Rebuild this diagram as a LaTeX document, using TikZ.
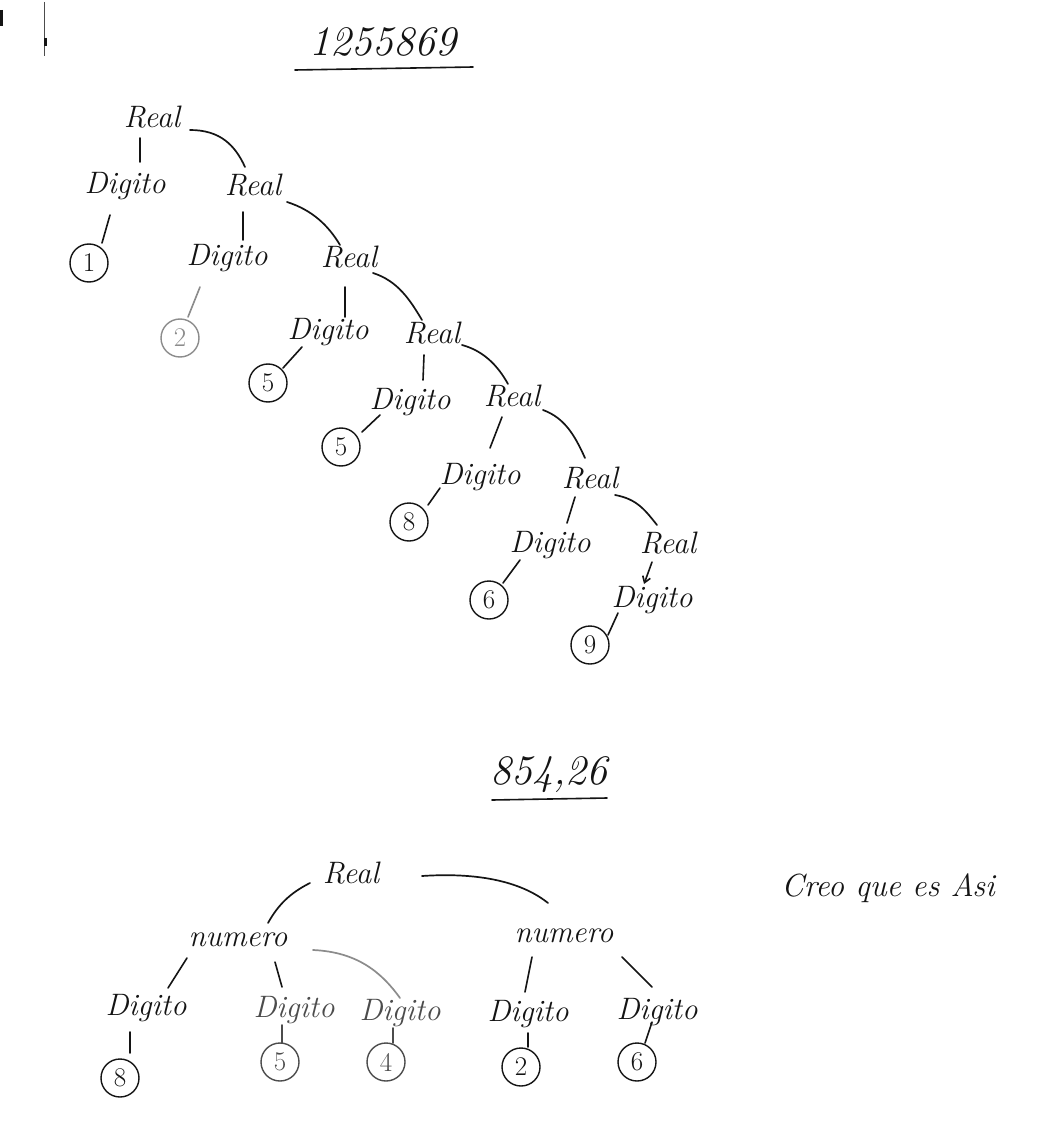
\documentclass[tikz,border=0pt]{standalone}
\usetikzlibrary{arrows.meta}
\definecolor{ink}{gray}{0.08}
\definecolor{faint}{gray}{0.55}
\definecolor{mid}{gray}{0.3}
\begin{document}
\begin{tikzpicture}[x=1pt,y=-1pt,
  lbl/.style={font=\fontsize{31}{34}\selectfont\itshape, inner sep=1pt, text=ink},
  ttl/.style={font=\fontsize{42}{46}\selectfont\itshape, inner sep=1pt, text=ink},
  dig/.style={circle, draw=ink, line width=1.4pt, minimum size=38pt, inner sep=0pt,
              font=\fontsize{27}{29}\selectfont, text=ink},
  edge/.style={draw=ink, line width=1.6pt, line cap=round},
  arc/.style={edge, line width=1.7pt}]
\useasboundingbox (0,0) rectangle (1041,1131);
\fill[white] (0,0) rectangle (1041,1131);

% scan marks at the top left
\draw[ink, line width=3pt] (1,10) -- (1,26);
\draw[mid, line width=0.8pt] (44,2) -- (44,56);
\draw[ink, line width=3pt] (45,38) -- (45,46);

% ---------- first tree: 1255869 ----------
\node[ttl] (t1) at (383,42) {1255869};
\draw[edge] ([shift={(-88,28)}]t1.center) -- ([shift={(90,25)}]t1.center);

\node[lbl] (r1) at (152,117) {Real};
\node[lbl] (d1) at (125,186) {Digito};
\node[lbl] (r2) at (253,185) {Real};
\node[dig] (c1) at (89,263) {1};
\node[lbl] (d2) at (227,258) {Digito};
\node[lbl] (r3) at (349,257) {Real};
\node[dig, draw=faint, text=faint] (c2) at (180,338) {2};
\node[lbl] (d3) at (328,332) {Digito};
\node[lbl] (r4) at (432,333) {Real};
\node[dig] (c3) at (268,383) {5};
\node[lbl] (d4) at (410,402) {Digito};
\node[lbl] (r5) at (512,396) {Real};
\node[dig] (c4) at (341,447) {5};
\node[lbl] (d5) at (480,477) {Digito};
\node[lbl] (r6) at (590,478) {Real};
\node[dig] (c5) at (409,522) {8};
\node[lbl] (d6) at (550,545) {Digito};
\node[lbl] (r7) at (668,543) {Real};
\node[dig] (c6) at (489,600) {6};
\node[lbl] (d7) at (652,600) {Digito};
\node[dig] (c7) at (590,645) {9};

\draw[edge] ([shift={(-12,21)}]r1.center) -- ([shift={(15,-24)}]d1.center);
\draw[arc] ([shift={(38,13)}]r1.center) .. controls +(30,0) and +(-10,-22) .. ([shift={(-8,-18)}]r2.center);
\draw[edge] ([shift={(-15,29)}]d1.center) -- ([shift={(13,-20)}]c1.center);
\draw[edge] ([shift={(-10,27)}]r2.center) -- ([shift={(16,-18)}]d2.center);
\draw[arc] ([shift={(34,17)}]r2.center) .. controls +(25,8) and +(-12,-20) .. ([shift={(-9,-12)}]r3.center);
\draw[edge, draw=faint] ([shift={(-27,29)}]d2.center) -- ([shift={(8,-21)}]c2.center);
\draw[edge] ([shift={(-4,30)}]r3.center) -- ([shift={(17,-15)}]d3.center);
\draw[arc] ([shift={(24,16)}]r3.center) .. controls +(25,8) and +(-12,-20) .. ([shift={(-10,-13)}]r4.center);
\draw[edge] ([shift={(-26,15)}]d3.center) -- ([shift={(15,-15)}]c3.center);
\draw[edge] ([shift={(-8,22)}]r4.center) -- ([shift={(13,-22)}]d4.center);
\draw[arc] ([shift={(30,12)}]r4.center) .. controls +(22,6) and +(-10,-18) .. ([shift={(-4,-12)}]r5.center);
\draw[edge] ([shift={(-30,13)}]d4.center) -- ([shift={(21,-15)}]c4.center);
\draw[edge] ([shift={(-10,21)}]r5.center) -- ([shift={(10,-29)}]d5.center);
\draw[arc] ([shift={(31,14)}]r5.center) .. controls +(22,8) and +(-10,-22) .. ([shift={(-5,-20)}]r6.center);
\draw[edge] ([shift={(-40,11)}]d5.center) -- ([shift={(19,-17)}]c5.center);
\draw[edge] ([shift={(-15,19)}]r6.center) -- ([shift={(17,-22)}]d6.center);
\draw[arc] ([shift={(25,17)}]r6.center) .. controls +(22,4) and +(-12,-15) .. ([shift={(-11,-18)}]r7.center);
\draw[edge] ([shift={(-30,15)}]d6.center) -- ([shift={(14,-17)}]c6.center);
\draw[edge, -{Straight Barb[length=6pt,width=8pt]}] ([shift={(-16,19)}]r7.center) -- ([shift={(-8,-16)}]d7.center);
\draw[edge] ([shift={(-34,13)}]d7.center) -- ([shift={(18,-10)}]c7.center);

% ---------- second tree: 854,26 ----------
\node[ttl] (t2) at (549,775) {854,26};
\draw[edge] ([shift={(-57,25)}]t2.center) -- ([shift={(58,23)}]t2.center);

\node[lbl] (R) at (351,873) {Real};
\node[lbl] (n1) at (238,940) {numero};
\node[lbl] (n2) at (564,936) {numero};
\node[lbl] (b1) at (146,1008) {Digito};
\node[lbl, text=mid] (b2) at (294,1010) {Digito};
\node[lbl, text=mid] (b3) at (400,1013) {Digito};
\node[lbl] (b4) at (528,1014) {Digito};
\node[lbl] (b5) at (657,1012) {Digito};
\node[dig] (k1) at (120,1078) {8};
\node[dig, draw=mid, text=mid] (k2) at (280,1062) {5};
\node[dig, draw=mid, text=mid] (k3) at (386,1062) {4};
\node[dig] (k4) at (521,1067) {2};
\node[dig] (k5) at (637,1062) {6};

\draw[arc] ([shift={(-41,10)}]R.center) .. controls +(-20,10) and +(10,-18) .. ([shift={(30,-17)}]n1.center);
\draw[arc] ([shift={(71,3)}]R.center) .. controls +(60,-4) and +(-25,-20) .. ([shift={(-16,-33)}]n2.center);
\draw[edge] ([shift={(-51,18)}]n1.center) -- ([shift={(22,-20)}]b1.center);
\draw[edge] ([shift={(37,22)}]n1.center) -- ([shift={(-12,-23)}]b2.center);
\draw[arc, draw=faint] ([shift={(75,10)}]n1.center) .. controls +(45,2) and +(-18,-25) .. ([shift={(0,-15)}]b3.center);
\draw[edge] ([shift={(-16,24)}]b1.center) -- ([shift={(10,-25)}]k1.center);
\draw[edge, draw=mid] ([shift={(-12,15)}]b2.center) -- ([shift={(2,-19)}]k2.center);
\draw[edge, draw=mid] ([shift={(-7,15)}]b3.center) -- ([shift={(7,-19)}]k3.center);
\draw[edge] ([shift={(-32,21)}]n2.center) -- ([shift={(-3,-22)}]b4.center);
\draw[edge] ([shift={(58,21)}]n2.center) -- ([shift={(-5,-25)}]b5.center);
\draw[edge] ([shift={(0,19)}]b4.center) -- ([shift={(7,-20)}]k4.center);
\draw[edge] ([shift={(-5,10)}]b5.center) -- ([shift={(8,-19)}]k5.center);

\node[lbl, font=\fontsize{32}{36}\selectfont\itshape] (note) at (888,888) {Creo que es Asi};
\end{tikzpicture}
\end{document}
